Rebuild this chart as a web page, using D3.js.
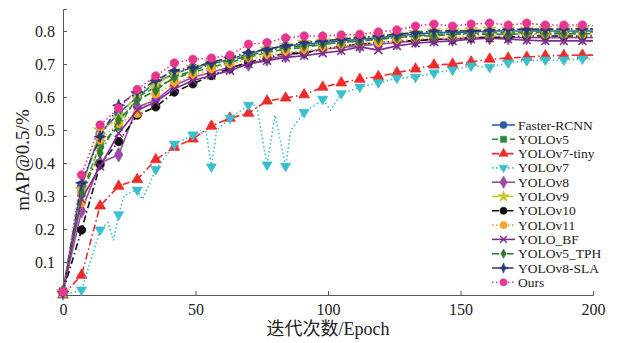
<!DOCTYPE html>
<html>
<head>
<meta charset="utf-8">
<script src="https://cdn.jsdelivr.net/npm/d3@7"></script>
<style>
  body { margin: 0; background: #fff; }
  text { font-family: "Liberation Serif", "Times New Roman", serif; fill: #222; }
</style>
</head>
<body>
<div id="chart"></div>
<script>
// epochs shared by most curves (markers every 7 epochs)
const epochs = [0, 7, 14, 21, 28, 35, 42, 49, 56, 63, 70, 77, 84, 91, 98, 105, 112, 119, 126, 133, 140, 147, 154, 161, 168, 175, 182, 189, 196, 200];

const seriesNames = ['Faster-RCNN', 'YOLOv5', 'YOLOv7-tiny', 'YOLOv7', 'YOLOv8', 'YOLOv9', 'YOLOv10', 'YOLOv11', 'YOLO_BF', 'YOLOv5_TPH', 'YOLOv8-SLA', 'Ours'];

const fasterRcnn = [0.01, 0.33, 0.49, 0.55, 0.60, 0.645, 0.67, 0.69, 0.70, 0.715, 0.73, 0.745, 0.755, 0.76, 0.765, 0.77, 0.775, 0.78, 0.785, 0.79, 0.795, 0.795, 0.797, 0.80, 0.80, 0.80, 0.80, 0.80, 0.80, 0.80];
const yolov5 = [0.01, 0.31, 0.455, 0.51, 0.60, 0.63, 0.655, 0.675, 0.69, 0.705, 0.72, 0.735, 0.745, 0.75, 0.76, 0.765, 0.77, 0.775, 0.78, 0.785, 0.79, 0.79, 0.793, 0.795, 0.795, 0.795, 0.797, 0.797, 0.797, 0.797];
const yolov7tiny = [0.0, 0.06, 0.27, 0.33, 0.35, 0.41, 0.448, 0.473, 0.512, 0.536, 0.551, 0.588, 0.597, 0.607, 0.63, 0.643, 0.654, 0.662, 0.674, 0.685, 0.697, 0.70, 0.706, 0.715, 0.718, 0.721, 0.725, 0.726, 0.727, 0.727];
const yolov8 = [0.01, 0.255, 0.40, 0.425, 0.57, 0.59, 0.635, 0.66, 0.675, 0.69, 0.70, 0.715, 0.725, 0.735, 0.745, 0.75, 0.755, 0.76, 0.765, 0.77, 0.775, 0.775, 0.78, 0.78, 0.78, 0.78, 0.78, 0.78, 0.78, 0.78];
const yolov9 = [0.01, 0.32, 0.50, 0.535, 0.61, 0.64, 0.67, 0.69, 0.705, 0.715, 0.73, 0.745, 0.755, 0.765, 0.77, 0.775, 0.78, 0.785, 0.79, 0.795, 0.80, 0.80, 0.803, 0.805, 0.805, 0.805, 0.807, 0.807, 0.807, 0.807];
const yolov10 = [0.01, 0.197, 0.395, 0.465, 0.545, 0.57, 0.615, 0.64, 0.665, 0.687, 0.706, 0.718, 0.733, 0.733, 0.745, 0.755, 0.76, 0.765, 0.77, 0.77, 0.775, 0.775, 0.78, 0.78, 0.782, 0.785, 0.785, 0.785, 0.785, 0.785];
const yolov11 = [0.01, 0.28, 0.47, 0.52, 0.55, 0.61, 0.64, 0.665, 0.685, 0.70, 0.715, 0.725, 0.735, 0.74, 0.745, 0.755, 0.76, 0.765, 0.77, 0.775, 0.78, 0.78, 0.785, 0.785, 0.79, 0.79, 0.79, 0.79, 0.79, 0.79];
const yoloBf = [0.01, 0.29, 0.39, 0.49, 0.56, 0.585, 0.625, 0.65, 0.665, 0.68, 0.70, 0.71, 0.72, 0.725, 0.733, 0.74, 0.752, 0.742, 0.755, 0.763, 0.767, 0.77, 0.775, 0.778, 0.775, 0.772, 0.77, 0.77, 0.77, 0.77];
const yolov5Tph = [0.01, 0.31, 0.43, 0.53, 0.59, 0.62, 0.66, 0.68, 0.70, 0.71, 0.725, 0.74, 0.75, 0.755, 0.76, 0.765, 0.77, 0.775, 0.78, 0.785, 0.785, 0.79, 0.79, 0.79, 0.79, 0.792, 0.792, 0.792, 0.792, 0.792];
const yolov8Sla = [0.01, 0.34, 0.48, 0.575, 0.615, 0.65, 0.68, 0.69, 0.705, 0.72, 0.735, 0.745, 0.755, 0.765, 0.77, 0.775, 0.78, 0.785, 0.79, 0.795, 0.80, 0.80, 0.80, 0.802, 0.805, 0.805, 0.805, 0.806, 0.806, 0.806];
const ours = [0.01, 0.364, 0.515, 0.566, 0.623, 0.664, 0.703, 0.714, 0.718, 0.727, 0.76, 0.765, 0.779, 0.785, 0.785, 0.788, 0.79, 0.797, 0.803, 0.815, 0.821, 0.815, 0.821, 0.824, 0.818, 0.824, 0.818, 0.818, 0.818, 0.816];

// YOLOv7 has its own sampling because of the sharp dips
const yolov7Epochs = [0, 7, 14, 17, 19, 21, 23, 25, 28, 30, 35, 42, 49, 54, 56, 58, 63, 70, 73, 77, 80, 84, 86, 91, 98, 101, 105, 112, 119, 126, 133, 140, 147, 154, 161, 168, 175, 182, 189, 196, 200];
const yolov7 = [0.0, 0.015, 0.197, 0.22, 0.165, 0.243, 0.30, 0.31, 0.318, 0.29, 0.38, 0.457, 0.485, 0.495, 0.388, 0.50, 0.536, 0.575, 0.575, 0.394, 0.545, 0.39, 0.50, 0.553, 0.593, 0.56, 0.61, 0.63, 0.643, 0.657, 0.66, 0.673, 0.682, 0.694, 0.69, 0.703, 0.71, 0.712, 0.712, 0.715, 0.715];

const xTicks = [0, 50, 100, 150, 200];
const yTicks = [0.1, 0.2, 0.3, 0.4, 0.5, 0.6, 0.7, 0.8];

const seriesValues = [fasterRcnn, yolov5, yolov7tiny, yolov7, yolov8, yolov9, yolov10, yolov11, yoloBf, yolov5Tph, yolov8Sla, ours];
const seriesEpochs = seriesNames.map(n => n === 'YOLOv7' ? yolov7Epochs : epochs);

// styles
const colors = ['#2f5ea8', '#2e8b3c', '#ee2b2b', '#3bbfcc', '#9b4aa8', '#c5c535', '#111111', '#f5a623', '#7d2d90', '#2f7a35', '#2b3777', '#e8368f'];
const dashes = ['none', '6,3', '7,3,1.5,3', '1.5,2.5', 'none', '7,3,1.5,3', '7,3,1.5,3', '1.5,2.5', 'none', '7,3,1.5,3', '7,3,1.5,3', '1.5,2.5'];
const markers = ['circle', 'square', 'triangle', 'triangleDown', 'diamond', 'star', 'circle', 'circle', 'times', 'thinDiamond', 'star4', 'circle'];

const width = 618, height = 343;
const margin = { top: 9, right: 25, bottom: 48, left: 63 };

const svg = d3.select('#chart').append('svg')
  .attr('width', width)
  .attr('height', height);

const x = d3.scaleLinear().domain([0, 200]).range([margin.left, width - margin.right]);
const y = d3.scaleLinear().domain([0, 0.8667]).range([height - margin.bottom, margin.top]);

function markerPath(kind) {
  switch (kind) {
    case 'circle': return d3.symbol(d3.symbolCircle, 55)();
    case 'square': return d3.symbol(d3.symbolSquare, 50)();
    case 'triangle': return d3.symbol(d3.symbolTriangle, 50)();
    case 'triangleDown': return 'M0,5.5L-5,-3L5,-3Z';
    case 'diamond': return d3.symbol(d3.symbolDiamond, 60)();
    case 'star': return d3.symbol(d3.symbolStar, 55)();
    case 'times': return 'M-4,-4L4,4M-4,4L4,-4';
    case 'thinDiamond': return 'M0,-5.5L3,0L0,5.5L-3,0Z';
    case 'star4': return 'M0,-6L1.6,-1.6L6,0L1.6,1.6L0,6L-1.6,1.6L-6,0L-1.6,-1.6Z';
  }
}

function drawMarker(g, kind, color) {
  const p = g.append('path').attr('d', markerPath(kind));
  if (kind === 'times') {
    p.attr('fill', 'none').attr('stroke', color).attr('stroke-width', 1.5);
  } else {
    p.attr('fill', color).attr('stroke', color).attr('stroke-width', 0.8);
  }
  return p;
}

// axes
const axisColor = '#555';
const xAxis = svg.append('g')
  .attr('transform', `translate(0,${y(0)})`)
  .call(d3.axisBottom(x).tickValues(xTicks).tickSizeInner(-4).tickSizeOuter(-4).tickPadding(9));
const yAxis = svg.append('g')
  .attr('transform', `translate(${x(0)},0)`)
  .call(d3.axisLeft(y).tickValues(yTicks).tickSizeInner(-4).tickSizeOuter(-4).tickPadding(8).tickFormat(d3.format('.1f')));

[xAxis, yAxis].forEach(a => {
  a.select('.domain').attr('stroke', axisColor).attr('stroke-width', 1);
  a.selectAll('.tick line').attr('stroke', axisColor);
  a.selectAll('.tick text')
    .style('font-family', '"Liberation Serif", "Times New Roman", serif')
    .style('font-size', '16px')
    .attr('fill', '#222');
});

// lines
const line = d3.line()
  .x(d => x(d[0]))
  .y(d => y(d[1]));

const order = [2, 3, 0, 1, 4, 5, 6, 7, 8, 9, 10, 11];
order.forEach(i => {
  const pts = seriesEpochs[i].map((e, k) => [e, seriesValues[i][k]]);
  const g = svg.append('g');
  g.append('path')
    .attr('d', line(pts))
    .attr('fill', 'none')
    .attr('stroke', colors[i])
    .attr('stroke-width', 1.6)
    .attr('stroke-dasharray', dashes[i])
    .attr('stroke-linejoin', 'round');

  pts.filter(p => p[0] % 7 === 0 && p[0] < 200).forEach(p => {
    const mg = g.append('g').attr('transform', `translate(${x(p[0])},${y(p[1])})`);
    drawMarker(mg, markers[i], colors[i]);
  });
});

// legend
const legend = svg.append('g').attr('transform', 'translate(492,125)');
seriesNames.forEach((name, i) => {
  const row = legend.append('g').attr('transform', `translate(0,${i * 14.3})`);
  row.append('line')
    .attr('x1', 0).attr('x2', 23)
    .attr('stroke', colors[i])
    .attr('stroke-width', 1.6)
    .attr('stroke-dasharray', dashes[i]);
  const mg = row.append('g').attr('transform', 'translate(11.5,0) scale(0.85)');
  drawMarker(mg, markers[i], colors[i]);
  row.append('text')
    .attr('x', 26)
    .attr('y', 4.5)
    .style('font-size', '13.5px')
    .text(name);
});

// axis titles
svg.append('text')
  .attr('x', (x(0) + x(200)) / 2)
  .attr('y', 335)
  .attr('text-anchor', 'middle')
  .style('font-family', '"Liberation Serif", "Noto Sans CJK SC", serif')
  .style('font-size', '18px')
  .text('迭代次数/Epoch');

svg.append('text')
  .attr('transform', 'translate(29,160) rotate(-90)')
  .attr('text-anchor', 'middle')
  .style('font-size', '19px')
  .text('mAP@0.5/%');
</script>
</body>
</html>
